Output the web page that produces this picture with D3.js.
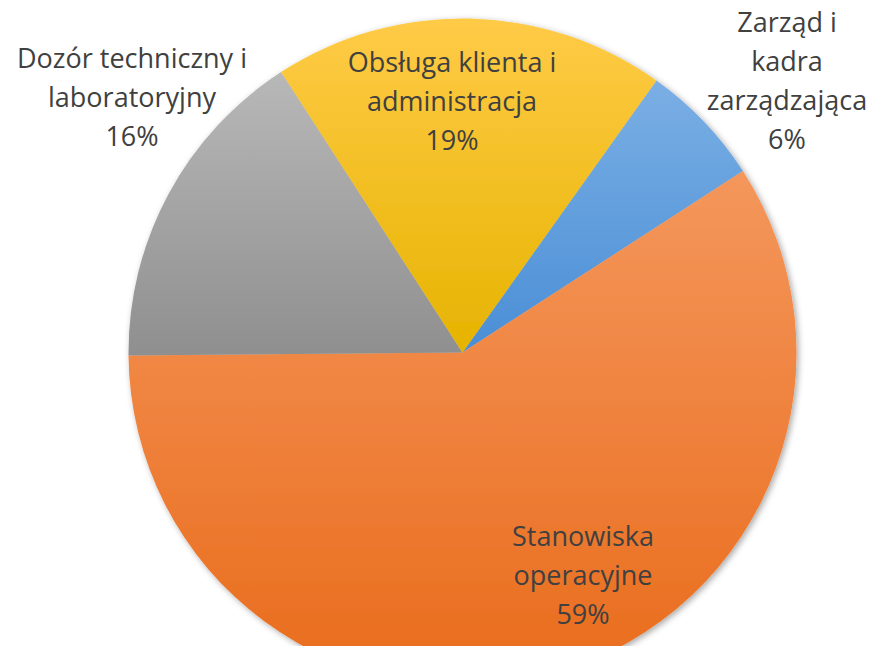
<!DOCTYPE html>
<html>
<head>
<meta charset="utf-8">
<script src="https://cdn.jsdelivr.net/npm/d3@7"></script>
<style>
  html, body { margin: 0; padding: 0; background: #fff; }
  #chart { width: 874px; height: 646px; overflow: hidden; }
</style>
</head>
<body>
<div id="chart"></div>
<script>
// data (order clockwise starting from the blue slice)
const categories = ["Zarząd i kadra zarządzająca", "Stanowiska operacyjne", "Dozór techniczny i laboratoryjny", "Obsługa klienta i administracja"];
const values = [6, 59, 16, 19];
const labelLines = [
    ["Zarząd i", "kadra", "zarządzająca", "6%"],
    ["Stanowiska", "operacyjne", "59%"],
    ["Dozór techniczny i", "laboratoryjny", "16%"],
    ["Obsługa klienta i", "administracja", "19%"]
];

// gradient colours per slice [top, bottom]
const gradColors = [
    ["#7AAFE4", "#4A8ED6"],
    ["#F4975C", "#E96B1B"],
    ["#B8B8B8", "#8F8F8F"],
    ["#FFCB47", "#E6B300"]
];

// label anchor points (center x, first baseline y)
const labelPos = [
    { x: 787, y: 32 },
    { x: 583, y: 546 },
    { x: 132, y: 68 },
    { x: 452, y: 72 }
];

const width = 874, height = 646;
const cx = 462.5, cy = 352.5, radius = 334;

const svg = d3.select("#chart").append("svg")
    .attr("width", width)
    .attr("height", height);

const defs = svg.append("defs");

gradColors.forEach((c, i) => {
    const g = defs.append("linearGradient")
        .attr("id", "grad" + i)
        .attr("x1", 0).attr("y1", 0)
        .attr("x2", 0).attr("y2", 1);
    g.append("stop").attr("offset", "0%").attr("stop-color", c[0]);
    g.append("stop").attr("offset", "100%").attr("stop-color", c[1]);
});

const shadow = defs.append("filter")
    .attr("id", "shadow")
    .attr("x", "-10%").attr("y", "-10%")
    .attr("width", "120%").attr("height", "120%");
shadow.append("feDropShadow")
    .attr("dx", 2).attr("dy", 2)
    .attr("stdDeviation", 3)
    .attr("flood-color", "#000")
    .attr("flood-opacity", 0.35);

const startDeg = 35.5;
const pie = d3.pie()
    .sort(null)
    .value(d => d)
    .startAngle(startDeg * Math.PI / 180)
    .endAngle((startDeg + 360) * Math.PI / 180);

const arc = d3.arc().innerRadius(0).outerRadius(radius);

const g = svg.append("g")
    .attr("transform", `translate(${cx},${cy})`)
    .attr("filter", "url(#shadow)");

g.selectAll("path")
    .data(pie(values))
    .enter()
    .append("path")
    .attr("d", arc)
    .attr("fill", (d, i) => `url(#grad${i})`);

// labels
const lineH = 39;
labelLines.forEach((lines, i) => {
    const t = svg.append("text")
        .attr("text-anchor", "middle")
        .style("font-family", "'Open Sans', 'Noto Sans', sans-serif")
        .style("font-size", "27px")
        .style("fill", "#404040");
    lines.forEach((ln, j) => {
        t.append("tspan")
            .attr("x", labelPos[i].x)
            .attr("y", labelPos[i].y + j * lineH)
            .text(ln);
    });
});
</script>
</body>
</html>
